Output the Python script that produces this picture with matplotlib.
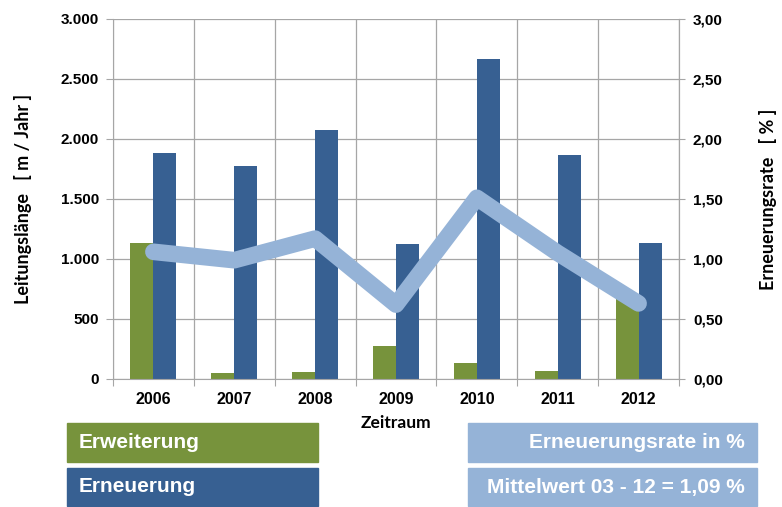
import matplotlib
matplotlib.use("Agg")
import matplotlib.pyplot as plt
from matplotlib.patches import Rectangle
import numpy as np

years = ["2006", "2007", "2008", "2009", "2010", "2011", "2012"]
erweiterung = [1133, 52, 56, 278, 131, 69, 700]
erneuerung = [1883, 1775, 2075, 1125, 2667, 1867, 1133]
rate = [1.06, 0.99, 1.17, 0.62, 1.51, 1.05, 0.63]
left_ticks = [0, 500, 1000, 1500, 2000, 2500, 3000]
left_labels = ["0", "500", "1.000", "1.500", "2.000", "2.500", "3.000"]
right_ticks = [0, 0.5, 1.0, 1.5, 2.0, 2.5, 3.0]
right_labels = ["0,00", "0,50", "1,00", "1,50", "2,00", "2,50", "3,00"]

GREEN = "#77933C"
BLUE = "#376092"
LIGHT = "#95B3D7"
GRID = "#A6A6A6"

plt.rcParams['font.family'] = ['Liberation Sans', 'DejaVu Sans']

fig = plt.figure(figsize=(7.82, 5.07), dpi=100)
ax = fig.add_axes([113/782, 1-379/507, (679-113)/782, (379-19)/507])
x = np.arange(len(years))
w = 0.285
ax.bar(x - w/2, erweiterung, width=w, color=GREEN, zorder=2)
ax.bar(x + w/2, erneuerung, width=w, color=BLUE, zorder=2)
ax.set_xlim(-0.5, len(years) - 0.5)
ax.set_ylim(0, 3000)
ax.set_yticks(left_ticks)
ax.set_yticklabels(left_labels, fontsize=11, fontweight='bold')
ax.set_xticks(np.arange(len(years) + 1) - 0.5)
ax.set_xticklabels([])
ax.set_xticks(x, minor=True)
ax.set_xticklabels(years, minor=True, fontsize=11.5, fontweight='bold')
ax.tick_params(axis='x', which='minor', length=0, pad=9)
ax.tick_params(axis='x', which='major', length=5, color=GRID)
ax.tick_params(axis='y', length=5, color=GRID, pad=5)
ax.grid(True, which='major', color=GRID, linewidth=0.9, zorder=0)
ax.spines['top'].set_visible(False)
for s in ['left', 'right', 'bottom']:
    ax.spines[s].set_color(GRID)
ax.set_ylabel("Leitungslänge   [ m / Jahr ]", fontsize=13, fontweight='bold',
              family=['Lato', 'DejaVu Sans'], labelpad=21)
ax.set_xlabel("Zeitraum", fontsize=12.5, fontweight='bold',
              family=['Lato', 'DejaVu Sans'], labelpad=6)

ax2 = ax.twinx()
ax2.plot(x, rate, color=LIGHT, linewidth=12, solid_capstyle='round',
         solid_joinstyle='round', zorder=3)
ax2.set_ylim(0, 3)
ax2.set_yticks(right_ticks)
ax2.set_yticklabels(right_labels, fontsize=11, fontweight='bold')
ax2.tick_params(axis='y', length=4, color=GRID, pad=6)
for s in ['top', 'left', 'bottom']:
    ax2.spines[s].set_visible(False)
ax2.spines['right'].set_color(GRID)
ax2.set_ylabel("Erneuerungsrate   [ % ]", fontsize=13, fontweight='bold',
               family=['Lato', 'DejaVu Sans'], labelpad=26, rotation=90)

boxes = [
    (67, 423, 318, 462, GREEN, "Erweiterung", 'left'),
    (67, 468, 318, 506, BLUE, "Erneuerung", 'left'),
    (468, 423, 757, 462, LIGHT, "Erneuerungsrate in %", 'right'),
    (468, 468, 757, 506, LIGHT, "Mittelwert 03 - 12 = 1,09 %", 'right'),
]
for x0, y0, x1, y1, c, t, ha in boxes:
    fig.patches.append(Rectangle((x0/782, 1-y1/507), (x1-x0)/782, (y1-y0)/507,
                                 transform=fig.transFigure, color=c, zorder=1))
    tx = (x0 + 12)/782 if ha == 'left' else (x1 - 12)/782
    fig.text(tx, 1-(y0+y1)/2/507, t, color='white', fontsize=15, fontweight='bold',
             ha=ha, va='center')

fig.savefig("out.png", dpi=100)
